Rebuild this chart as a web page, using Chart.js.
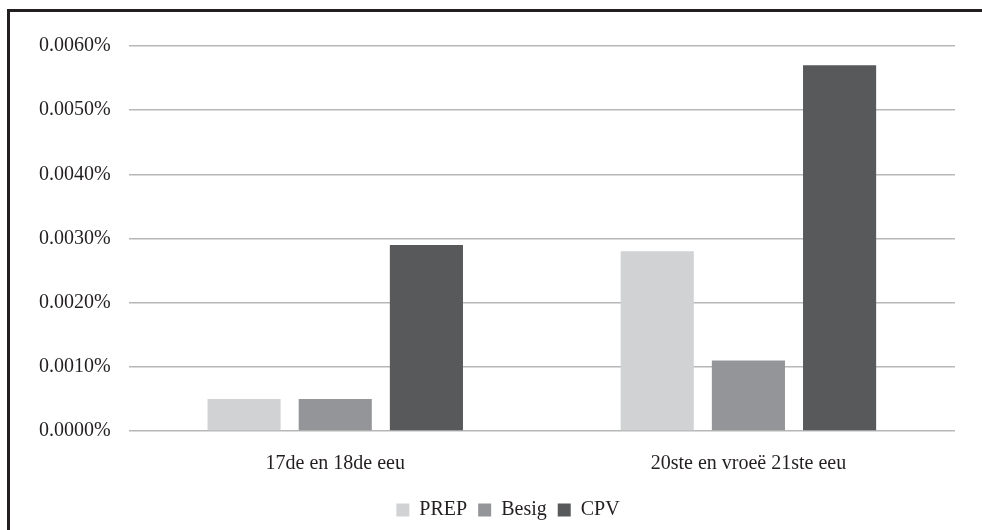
<!DOCTYPE html>
<html lang="af">
<head>
  <meta charset="UTF-8">
  <title>PREP, Besig, CPV</title>
  <script src="https://cdn.jsdelivr.net/npm/chart.js"></script>
  <style>
    html, body { margin: 0; padding: 0; background: #fff; overflow: hidden; }
    #frame {
      position: absolute;
      left: 7px;
      top: 9px;
      width: 975px;
      height: 521px;
      border-left: 3px solid #231f20;
      border-top: 3px solid #231f20;
    }
    #wrap { position: relative; width: 972px; height: 518px; }
  </style>
</head>
<body>
  <div id="frame">
    <div id="wrap"><canvas id="chart"></canvas></div>
  </div>
  <script>
    // data (values in percent)
    const categories = ['17de en 18de eeu', '20ste en vroeë 21ste eeu'];
    const seriesNames = ['PREP', 'Besig', 'CPV'];
    const prep = [0.0005, 0.0028];
    const besig = [0.0005, 0.0011];
    const cpv = [0.0029, 0.0057];
    const yTicks = [0, 0.001, 0.002, 0.003, 0.004, 0.005, 0.006];

    const colors = ['#d1d2d4', '#949598', '#58595b'];
    const font = { family: '"Liberation Serif", "Times New Roman", serif', size: 20 };

    // legend sits a little right of centre in the original
    const legendShift = {
      id: 'legendShift',
      afterLayout(chart) {
        chart.legend.left += 20;
        chart.legend.right += 20;
      }
    };

    new Chart(document.getElementById('chart'), {
      type: 'bar',
      data: {
        labels: categories,
        datasets: [prep, besig, cpv].map((d, i) => ({
          label: seriesNames[i],
          data: d,
          backgroundColor: colors[i],
          borderWidth: 0,
          categoryPercentage: 0.662,
          barPercentage: 0.802
        }))
      },
      options: {
        responsive: true,
        maintainAspectRatio: false,
        animation: false,
        layout: { padding: { top: 34, right: 27, bottom: 0, left: 11 } },
        plugins: {
          tooltip: { enabled: false },
          legend: {
            position: 'bottom',
            labels: {
              font: font,
              color: '#231f20',
              boxWidth: 13,
              boxHeight: 13,
              padding: 11
            }
          }
        },
        scales: {
          x: {
            grid: { display: false },
            border: { display: false },
            ticks: { font: font, color: '#231f20', padding: 13 }
          },
          y: {
            min: 0,
            max: 0.006,
            afterBuildTicks: (axis) => { axis.ticks = yTicks.map(v => ({ value: v })); },
            grid: { color: '#b7b7b7', lineWidth: 1.5, drawTicks: false },
            border: { display: false },
            ticks: {
              font: font,
              color: '#231f20',
              padding: 18,
              callback: (v) => v.toFixed(4) + '%'
            }
          }
        }
      },
      plugins: [legendShift]
    });
  </script>
</body>
</html>
